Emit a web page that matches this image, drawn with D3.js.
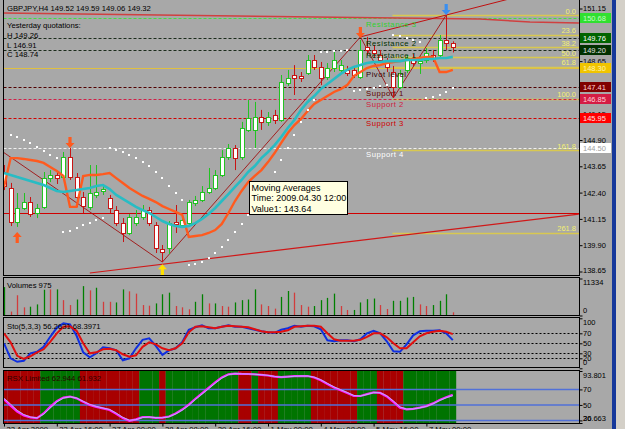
<!DOCTYPE html>
<html>
<head>
<meta charset="utf-8">
<script src="https://cdn.jsdelivr.net/npm/d3@7"></script>
<style>
  body { margin: 0; background: #d4d0c8; }
  svg { display: block; font-family: "Liberation Sans", Arial, sans-serif; }
</style>
</head>
<body>
<div id="chart"></div>
<script>
// ---- GBPJPY H4 bars ----
const barOpen = [143.38,142.62,141.00,141.67,141.95,141.43,141.72,143.09,143.24,143.14,
  144.09,143.14,142.19,141.72,142.29,142.48,142.14,141.57,140.95,140.48,
  140.95,141.24,141.57,140.86,139.72,139.77,141.00,140.86,140.95,141.91,
  142.05,142.43,142.62,143.24,144.09,144.52,144.09,145.38,145.38,145.99,
  145.76,146.09,145.85,147.61,147.99,147.94,148.08,148.70,148.37,147.89,
  148.32,148.23,148.23,148.23,147.89,149.32,149.18,148.94,148.61,148.13,
  147.42,148.23,148.80,148.56,148.70,148.94,148.94,149.65,149.52];
const barHigh = [143.71,142.86,142.38,142.38,142.19,141.86,143.38,143.47,143.38,144.33,
  144.52,143.33,142.43,143.71,143.71,142.71,142.29,141.76,141.19,141.38,
  141.57,141.81,141.72,141.00,139.91,141.05,141.81,141.38,142.05,142.24,
  142.71,143.57,143.47,144.42,144.71,144.66,145.76,146.80,146.71,146.33,
  146.23,146.33,147.99,148.23,148.46,148.13,148.94,148.94,148.61,148.56,
  149.08,148.70,148.42,148.42,149.65,149.80,149.42,149.18,148.80,148.42,
  148.23,148.94,148.99,148.89,149.27,149.18,149.89,150.84,149.59];
const barLow = [142.52,140.81,140.77,141.57,141.24,141.19,141.62,142.90,142.81,143.05,
  143.00,141.72,141.43,141.57,142.14,142.29,141.43,140.81,140.05,140.38,
  140.81,141.10,140.81,139.53,139.10,139.48,140.48,140.72,140.86,141.76,
  141.95,142.33,142.52,143.14,143.95,143.47,143.95,145.28,144.52,145.38,
  145.57,145.66,145.76,147.47,147.04,147.66,147.99,148.23,147.51,147.75,
  148.13,148.08,147.94,147.85,147.80,148.94,148.80,148.56,148.13,146.90,
  147.32,148.08,148.42,148.04,148.56,148.61,148.80,149.18,149.06];
const barClose = [142.71,141.00,141.67,141.95,141.38,141.67,143.09,143.24,143.09,144.09,
  143.14,142.19,141.76,142.38,142.43,142.57,141.67,140.95,140.48,141.24,
  141.24,141.57,140.95,139.77,139.58,140.95,140.91,141.10,141.95,142.05,
  142.43,142.62,143.24,144.09,144.52,144.04,145.47,145.95,145.99,145.76,
  145.99,145.85,147.66,147.85,147.85,147.85,148.70,148.37,147.85,148.32,
  148.70,148.46,148.08,147.99,149.18,149.18,149.04,148.70,148.37,147.42,
  148.08,148.80,148.56,148.65,149.04,148.80,149.65,149.51,149.32];

// moving averages
const maCyan = [143.33,143.24,143.14,143.05,142.95,142.86,142.76,142.62,142.48,142.43,
  142.48,142.52,142.57,142.62,142.71,142.76,142.57,142.29,142.10,141.91,
  141.72,141.57,141.43,141.24,141.05,140.91,140.81,140.77,140.81,140.95,
  141.15,141.38,141.67,142.00,142.33,142.67,143.00,143.38,143.66,144.04,
  144.33,144.66,145.04,145.47,145.85,146.33,146.71,146.99,147.32,147.56,
  147.80,148.04,148.23,148.37,148.46,148.56,148.61,148.61,148.65,148.65,
  148.65,148.70,148.70,148.70,148.75,148.75,148.80,148.80,148.85];
const maOrange = [142.67,144.04,144.04,144.00,143.95,143.90,143.81,143.62,143.43,143.19,
  141.72,141.72,143.19,143.24,143.24,143.28,143.33,143.09,142.86,142.62,
  142.43,142.24,142.10,141.95,141.76,141.62,141.48,141.34,140.29,140.34,
  140.38,140.48,140.62,140.91,141.43,142.00,142.48,142.90,143.19,143.47,
  143.85,144.28,144.76,145.23,145.61,145.90,146.28,146.61,146.80,146.99,
  147.18,147.32,147.51,147.94,148.13,148.32,148.42,148.46,148.56,148.61,
  148.65,148.70,148.75,148.80,148.85,148.85,148.13,148.13,148.23];
// parabolic SAR
const sar = [null,145.14,145.04,144.90,144.76,144.57,144.38,144.19,144.04,140.53,
  140.58,140.72,140.86,140.95,141.10,141.19,144.52,144.42,144.33,144.19,
  144.04,143.85,143.66,143.38,143.09,142.71,142.38,142.05,138.96,139.01,
  139.10,139.29,139.53,139.81,140.15,140.53,140.91,141.34,141.76,142.29,
  142.81,143.38,143.95,144.52,145.14,145.76,146.33,146.80,149.08,149.08,
  149.13,149.13,149.18,147.23,147.28,147.32,147.37,147.47,147.51,149.89,
  149.84,149.75,149.65,149.56,146.90,146.94,147.04,147.18,147.37];

// volumes
const volumes = [8700,1200,6200,2500,2700,3400,7900,8000,8000,4700,
  3200,4900,9000,7700,8500,4200,4200,4000,8000,7400,
  6700,3200,3000,3700,6500,7000,2900,2500,1900,4200,
  6500,3700,3700,2900,2700,4000,4700,4900,8000,3400,
  2900,2100,5700,7500,7000,3200,2700,2900,4700,5400,
  6700,2900,1700,1700,4000,5000,5200,3200,2000,4500,
  4500,5500,5700,3400,2900,3200,4500,6500,975];
const volDir = "grrrgggrgr rggrgrrggr rrrgggrrrg grgrrggggr rrggrrrggg grrggggrrg gggrrgggr".replace(/ /g, "").split("");

// stochastic
const stoMain = [50,20,13,15,30,33,43,63,81,90,88,65,32,22,30,42,40,36,16,20,
  40,57,60,45,27,36,40,52,77,82,86,80,80,83,86,83,83,80,77,74,
  72,71,77,80,85,83,85,84,78,56,54,56,56,54,58,70,75,70,54,34,
  33,48,66,74,75,75,76,70,56.26];
const stoSignal = [70,52,25,19,24,32,38,53,70,83,84,75,50,30,32,38,39,36,28,23,
  26,43,52,48,40,36,40,50,72,83,84,82,80,83,85,84,83,82,78,74,
  72,72,73,76,83,84,85,85,83,70,58,55,55,55,57,63,70,70,62,50,
  40,40,52,64,70,73,75,73,68.4];

// RSX
const rsxMain = [57.3,49,41.5,36.5,34,33,39,47.5,55,59.5,60.8,58.5,54,50,47.5,45.5,43.5,38.5,33,29.5,
  31.4,34.2,34.3,33.4,33.5,35,39,44,50.5,58,65,72,79,85.5,89.5,90.5,90,89.9,89.5,88.9,
  88,86.5,85.8,86.5,87.2,87.3,87.3,85.5,81.8,77,72.5,69,65.5,61.5,61.5,64,66.2,65.5,61,54,
  46.5,44.3,45,46.5,48.5,52,56.4,60,62.944];
const rsxSignal = [58.5,51,43,37.5,34.5,33.2,38,46,53.8,58.8,60.5,58.9,54.7,50.6,48,46,44.2,39.5,34,30.2,
  31,33.8,34.4,33.6,33.4,34.6,38.3,43.2,49.5,57,64,71,78,84.6,89,90.3,90.1,89.9,89.6,89,
  88.2,86.8,85.9,86.3,87,87.3,87.3,85.9,82.5,77.8,73.3,69.6,66.1,62.2,61.4,63.5,65.9,65.7,61.8,55,
  47.4,44.6,44.8,46.2,48.1,51.4,55.6,59.3,61.932];
const rsxZone = "rrrrrr gggggg rrrrrrrrr ggg r ggggggggggg rr g rrr ggggg rrrrrrr ggg rrrr gggggggg".replace(/ /g, "").split("");

// pivot levels
const pivotNames = ["Resistance 3","Resistance 2","Resistance 1","Pivot level","Support 1","Support 2","Support 3","Support 4"];
const pivotPrices = [150.68,149.76,149.20,148.30,147.41,146.85,145.95,144.50];
// fibonacci
const fibNames = ["0.0","23.6","38.2","50.0","61.8","100.0","161.8","261.8"];
const fibPrices = [150.84,149.90,149.32,148.84,148.37,146.85,144.42,140.49];
const fibStart = 59;

// trend lines as [bar index, price]
const topLine = [[-0.15,150.94],[72.1,150.65],[79.7,150.51],[87.1,150.46]];
const riseLine = [[13.0,138.58],[87.1,141.38]];
const flatRed = 141.43;
const zigzag = [[-0.15,144.33],[24,139.10],[54,149.80],[59,146.90],[67,150.84]];
const highsLine = [[54,149.80],[67,150.84]];

// arrows
const arrowIdx = [2,10,24,54,67];
const arrowPrice = [140.53,144.52,139.00,149.75,150.84];
const arrowDir = ["up","down","up","down","down"];
const arrowColor = ["#ff5a1e","#ff5a1e","#ffe000","#ff5a1e","#3a8ff0"];

// axis ticks
const priceTicks = [151.15,149.90,148.65,147.40,146.15,144.90,143.65,142.40,141.15,139.90,138.65];
const volTicks = [0,11334];
const stoTicks = [0,20,30,50,70,100];
const stoLevels = [20,30,50,70];
const rsxTicks = [26.663,30,50,70,93.801];
const rsxLevels = [30,50,70];
const timeIdx = [0,8,16,24,32,40,48,56,64];
const timeLabels = ["22 Apr 2009","23 Apr 16:00","27 Apr 00:00","28 Apr 08:00","29 Apr 16:00","1 May 00:00","4 May 08:00","5 May 16:00","7 May 00:00"];

// ---- layout ----
const plotL = 3.5, plotR = 579.5;
const mainTop = -1, mainBot = 275.5;
const volTop = 277.5, volBot = 315.5;
const stoTop = 317.5, stoBot = 367.5;
const rsxTop = 370.5, rsxBot = 423.5;
const bull = "#22c322", bear = "#c81414";

let svg = d3.select("#chart").append("svg").attr("width", 625).attr("height", 429);

svg.append("rect").attr("x", 0).attr("y", 0).attr("width", 612).attr("height", 429).attr("fill", "#a8a8a8");
svg.append("rect").attr("x", 612).attr("y", 0).attr("width", 4).attr("height", 429).attr("fill", "#16389a");

let x = d3.scaleLinear().domain([0, 68]).range([4, 452.8]);
let y = d3.scaleLinear().domain([138.65, 151.15]).range([271.5, 8.5]);
let yVol = d3.scaleLinear().domain([0, 11334]).range([315.5, 278.5]);
let ySto = d3.scaleLinear().domain([0, 100]).range([368.3, 318.3]);
let yRsx = d3.scaleLinear().domain([26.663, 93.801]).range([423, 371]);
let idx = d3.range(barOpen.length);

let defs = svg.append("defs");
[["clipMain", mainTop, mainBot], ["clipRsx", rsxTop, rsxBot], ["clipSto", stoTop, stoBot]].forEach(function(c) {
  defs.append("clipPath").attr("id", c[0]).append("rect")
    .attr("x", plotL).attr("y", c[1]).attr("width", plotR - plotL).attr("height", c[2] - c[1]);
});

// ---- main panel ----
let main = svg.append("g").attr("clip-path", "url(#clipMain)");

const pivotLine = ["#40e040","#1c2c1c","#1c2c1c","#e0c040","#500000","#d02048","#d00000","#f0f0f0"];
const pivotDash = ["3,2","3,2","3,2",null,"3,2","3,2","3,2","3,2"];
const pivotText = ["#30d030","#003000","#0a3a0a","#300000","#600000","#d02040","#d00000","#ffffff"];

main.selectAll(".fib").data(fibPrices).join("line")
  .attr("x1", x(fibStart) - 1).attr("x2", plotR)
  .attr("y1", d => Math.round(y(d)) + 0.5).attr("y2", d => Math.round(y(d)) + 0.5)
  .attr("stroke", "#d8c850").attr("stroke-width", 1.5);

main.selectAll(".piv").data(pivotPrices).join("line")
  .attr("x1", plotL).attr("x2", plotR)
  .attr("y1", d => Math.round(y(d)) + 0.5).attr("y2", d => Math.round(y(d)) + 0.5)
  .attr("stroke", (d, i) => pivotLine[i]).attr("stroke-dasharray", (d, i) => pivotDash[i]);

main.append("line").attr("x1", plotL).attr("x2", plotR)
  .attr("y1", Math.round(y(flatRed)) + 0.5).attr("y2", Math.round(y(flatRed)) + 0.5)
  .attr("stroke", "#d00000");

let tl = d3.line().x(d => x(d[0])).y(d => y(d[1]));
main.append("path").attr("d", tl(topLine)).attr("fill", "none").attr("stroke", "#d04040").attr("stroke-width", 1.5);
main.append("path").attr("d", tl(riseLine)).attr("fill", "none").attr("stroke", "#d01818").attr("stroke-width", 1.2);
main.append("path").attr("d", tl(zigzag)).attr("fill", "none").attr("stroke", "#a01010").attr("stroke-width", 0.9);
// ray through the two highs
let hs = (highsLine[1][1] - highsLine[0][1]) / (highsLine[1][0] - highsLine[0][0]);
main.append("line")
  .attr("x1", x(highsLine[0][0])).attr("y1", y(highsLine[0][1]))
  .attr("x2", x(90)).attr("y2", y(highsLine[0][1] + hs * (90 - highsLine[0][0])))
  .attr("stroke", "#c01010").attr("stroke-width", 1);

// candles
let cg = main.append("g").selectAll("g").data(idx).join("g");
cg.append("line")
  .attr("x1", i => Math.round(x(i)) + 0.5).attr("x2", i => Math.round(x(i)) + 0.5)
  .attr("y1", i => y(barHigh[i])).attr("y2", i => y(barLow[i]))
  .attr("stroke", i => barClose[i] >= barOpen[i] ? bull : bear);
cg.append("rect")
  .attr("x", i => Math.round(x(i)) - 1.5).attr("width", 4)
  .attr("y", i => Math.round(y(Math.max(barOpen[i], barClose[i]))) + 0.5)
  .attr("height", i => Math.max(1, Math.round(Math.abs(y(barOpen[i]) - y(barClose[i])))))
  .attr("fill", "#ffffff")
  .attr("stroke", i => barClose[i] >= barOpen[i] ? bull : bear);

let ml = d3.line().x((d, i) => x(i)).y(d => y(d)).curve(d3.curveLinear);
main.append("path").attr("d", ml(maOrange)).attr("fill", "none").attr("stroke", "#ff5a1e").attr("stroke-width", 2.4);
main.append("path").attr("d", ml(maCyan)).attr("fill", "none").attr("stroke", "#28bcc4").attr("stroke-width", 2.6);

main.selectAll(".sar").data(idx.filter(i => sar[i] != null)).join("rect")
  .attr("x", i => Math.round(x(i)) - 1).attr("y", i => Math.round(y(sar[i])) - 1)
  .attr("width", 2).attr("height", 2).attr("fill", "#ffffff");

main.selectAll(".arr").data(arrowIdx).join("path")
  .attr("transform", (d, k) => "translate(" + x(d) + "," + y(arrowPrice[k]) + ")" + (arrowDir[k] == "up" ? " scale(1,-1)" : ""))
  .attr("d", "M0,0 L-4.5,-5 L-1.6,-5 L-1.6,-11 L1.6,-11 L1.6,-5 L4.5,-5 Z")
  .attr("fill", (d, k) => arrowColor[k]);

// level names and fib labels
svg.selectAll(".pn").data(pivotNames).join("text")
  .attr("x", 366).attr("y", (d, i) => y(pivotPrices[i]) + 8.5)
  .attr("fill", (d, i) => pivotText[i]).attr("font-size", 7.7).attr("letter-spacing", 0.5)
  .text(d => d);
svg.selectAll(".fn").data(fibNames).join("text")
  .attr("x", 576).attr("y", (d, i) => y(fibPrices[i]) - 1.5).attr("text-anchor", "end")
  .attr("fill", "#f4f070").attr("font-size", 7.5).text(d => d);

// header text
let hdr = ["GBPJPY,H4 149.52 149.59 149.06 149.32", "Yesterday quotations:", "H 149.26", "L 146.91", "C 148.74"];
let hdrY = [10.5, 28, 38, 47.5, 57];
svg.selectAll(".hd").data(hdr).join("text")
  .attr("x", 7).attr("y", (d, i) => hdrY[i]).attr("font-size", 7.7).attr("fill", "#000").text(d => d);

// ---- volume panel ----
svg.append("g").selectAll("line").data(idx).join("line")
  .attr("x1", i => Math.round(x(i)) + 0.5).attr("x2", i => Math.round(x(i)) + 0.5)
  .attr("y1", yVol(0)).attr("y2", i => yVol(volumes[i]))
  .attr("stroke", i => volDir[i] == "g" ? "#008000" : "#d23c3c").attr("stroke-width", 1.3);
svg.append("text").attr("x", 7).attr("y", 288).attr("font-size", 7.7).text("Volumes 975");

// ---- stochastic panel ----
let sto = svg.append("g").attr("clip-path", "url(#clipSto)");
sto.selectAll("line").data(stoLevels).join("line")
  .attr("x1", plotL).attr("x2", plotR)
  .attr("y1", d => Math.round(ySto(d)) + 0.5).attr("y2", d => Math.round(ySto(d)) + 0.5)
  .attr("stroke", "#000").attr("stroke-dasharray", "2,2");
let sl = d3.line().x((d, i) => x(i)).y(d => ySto(d));
sto.append("path").attr("d", sl(stoMain)).attr("fill", "none").attr("stroke", "#1030e0").attr("stroke-width", 2);
sto.append("path").attr("d", sl(stoSignal)).attr("fill", "none").attr("stroke", "#e01010").attr("stroke-width", 2);
svg.append("text").attr("x", 7).attr("y", 329).attr("font-size", 7.7).text("Sto(5,3,3) 56.2631 68.3971");

// ---- RSX panel ----
let rsx = svg.append("g").attr("clip-path", "url(#clipRsx)");
rsx.selectAll("rect").data(idx).join("rect")
  .attr("x", i => x(i) - 3.3).attr("width", 6.7)
  .attr("y", rsxTop).attr("height", rsxBot - rsxTop)
  .attr("fill", i => rsxZone[i] == "r" ? "#a80000" : "#007400");
rsx.selectAll("line").data(rsxLevels).join("line")
  .attr("x1", plotL).attr("x2", plotR)
  .attr("y1", d => yRsx(d)).attr("y2", d => yRsx(d))
  .attr("stroke", "#5070d8").attr("stroke-width", 1.5);
let rl = d3.line().x((d, i) => x(i)).y(d => yRsx(d));
rsx.append("path").attr("d", rl(rsxMain)).attr("fill", "none").attr("stroke", "#ff20ff").attr("stroke-width", 2.2);
rsx.append("path").attr("d", rl(rsxSignal)).attr("fill", "none").attr("stroke", "#a8c8ff").attr("stroke-width", 0.9);
svg.append("text").attr("x", 7).attr("y", 380.5).attr("font-size", 7.7).attr("fill", "#2a0000").text("RSX Limited 62.944 61.932");

// ---- panel frames ----
[[mainTop, mainBot], [volTop, volBot], [stoTop, stoBot], [rsxTop, rsxBot]].forEach(function(p) {
  svg.append("rect").attr("x", plotL).attr("y", p[0]).attr("width", plotR - plotL).attr("height", p[1] - p[0])
    .attr("fill", "none").attr("stroke", "#000");
});

// ---- right axes ----
function rightAxis(scale, ticks, fmt, top, bottom) {
  let ax = svg.append("g").attr("transform", "translate(" + plotR + ",0)")
    .call(d3.axisRight(scale).tickValues(ticks).tickSize(3).tickFormat(fmt));
  ax.select(".domain").remove();
  ax.attr("font-family", "Liberation Sans, Arial, sans-serif").attr("font-size", 7.5);
  ax.selectAll(".tick line").attr("stroke", "#000");
  ax.selectAll(".tick text").attr("x", 3.5).attr("fill", "#000")
    .attr("y", d => Math.max(top + 5, Math.min(bottom - 5, scale(d))) - scale(d));
  return ax;
}
rightAxis(y, priceTicks, d3.format(".2f"), 0, mainBot);
rightAxis(yVol, volTicks, d3.format("d"), volTop, volBot);
rightAxis(ySto, stoTicks, d3.format("d"), stoTop, stoBot);
rightAxis(yRsx, rsxTicks, d => (d % 1 ? d3.format(".3f")(d) : d), rsxTop, rsxBot);

// level price boxes
const boxFill = ["#30e030","#006400","#003000","#f0c400","#800000","#d41c44","#ff0000","#ffffff"];
const boxText = ["#c0ffc0","#ffffff","#e0e0e0","#fff4b0","#ffd0d0","#ffd0d8","#ffe0e0","#a0a0a0"];
let bx = svg.append("g").selectAll("g").data(pivotPrices).join("g")
  .attr("transform", d => "translate(580," + Math.round(y(d)) + ")");
bx.append("rect").attr("x", 0).attr("y", -5).attr("width", 31).attr("height", 10).attr("fill", (d, i) => boxFill[i]);
bx.append("text").attr("x", 3).attr("y", 3).attr("font-size", 7.5).attr("fill", (d, i) => boxText[i])
  .text(d => d3.format(".2f")(d));

// ---- time axis ----
let tax = svg.append("g").attr("transform", "translate(0," + rsxBot + ")")
  .call(d3.axisBottom(x).tickValues(timeIdx).tickSize(3).tickFormat((d, i) => timeLabels[i]));
tax.select(".domain").remove();
tax.attr("font-family", "Liberation Sans, Arial, sans-serif").attr("font-size", 7.7);
tax.selectAll(".tick line").attr("stroke", "#000");
tax.selectAll(".tick text").attr("text-anchor", "start").attr("x", 2).attr("y", 3).attr("fill", "#000");

// ---- tooltip ----
let tip = svg.append("g").attr("transform", "translate(249,181)");
tip.append("rect").attr("x", 0.5).attr("y", 0.5).attr("width", 98).attr("height", 33)
  .attr("fill", "#ffffe1").attr("stroke", "#000");
tip.selectAll("text").data(["Moving Averages", "Time: 2009.04.30 12:00", "Value1: 143.64"]).join("text")
  .attr("x", 2.5).attr("y", (d, i) => 9.5 + i * 10.8).attr("font-size", 9).attr("fill", "#000").text(d => d);
</script>
</body>
</html>
